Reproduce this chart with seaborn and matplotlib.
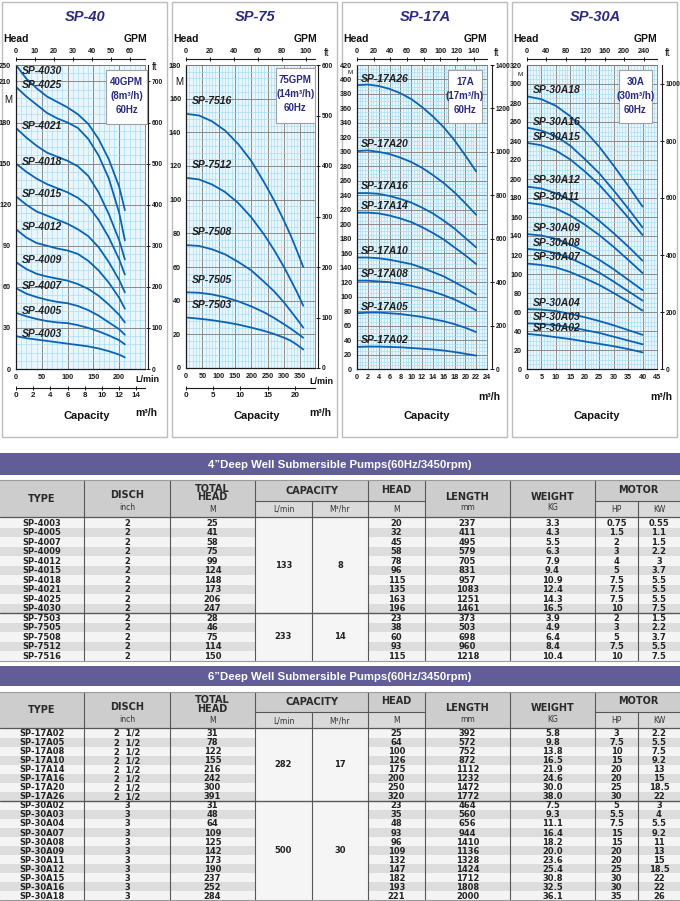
import pandas as pd
import matplotlib
matplotlib.use("Agg")
import matplotlib.pyplot as plt
from matplotlib.patches import Rectangle
from matplotlib.ticker import MultipleLocator
import seaborn as sns

# ------------------------------------------------------------------ curves
# SP-40 : flow in L/min, head in m (as drawn on the chart grid)
sp40_flow = [0, 20, 40, 60, 80, 100, 120, 140, 160, 180, 200, 211]
sp40_models = ["SP-4030", "SP-4025", "SP-4021", "SP-4018", "SP-4015",
               "SP-4012", "SP-4009", "SP-4007", "SP-4005", "SP-4003"]
sp40_heads = [
    [222, 212, 205, 199, 195, 191, 186, 179, 168, 153, 133, 116],
    [206, 199, 193, 187, 183, 180, 176, 168, 156, 139, 114, 94],
    [176, 169, 163, 158, 155, 152, 148, 141, 129, 113, 94, 80],
    [150, 144, 139, 135, 132, 129, 125, 119, 109, 96, 80, 69],
    [126, 120, 115, 112, 109, 106, 102, 97, 89, 78, 65, 56],
    [102, 96, 92, 90, 88, 86.5, 84, 79, 72, 63, 52, 44],
    [78, 73, 69.5, 67.5, 66, 64.5, 62, 58.5, 53.5, 47, 39.5, 34],
    [59, 55, 52.5, 50.5, 49, 48, 46, 43, 39, 34, 29, 25],
    [41, 38.5, 36.5, 35, 34, 33.5, 32, 30, 27.5, 24.5, 21, 18],
    [24, 22.5, 21.5, 20.5, 19.5, 18.5, 17.5, 16.5, 15, 13, 10.5, 8.5],
]

# SP-75 : flow in L/min
sp75_flow = [0, 40, 80, 120, 160, 200, 240, 270, 300, 320, 340, 359]
sp75_models = ["SP-7516", "SP-7512", "SP-7508", "SP-7505", "SP-7503"]
sp75_heads = [
    [151, 150, 146.5, 141, 133, 123, 110, 99.5, 87.5, 79, 69.5, 60],
    [113, 112, 109, 104.5, 98, 89.5, 79, 70, 60, 52.5, 45, 37],
    [73, 72.5, 70.5, 67.5, 63, 58, 51, 45.5, 39, 34, 29, 24],
    [45, 44.7, 43.7, 42, 39.6, 36.6, 33, 29.7, 26, 23.5, 20.7, 18],
    [30, 29.3, 28.4, 27.2, 25.8, 24, 22, 20.2, 18, 16.3, 13.8, 11],
]

# SP-17A : flow in m3/h
sp17_flow = [0, 2, 4, 6, 8, 10, 12, 14, 16, 18, 20, 22]
sp17_models = ["SP-17A26", "SP-17A20", "SP-17A16", "SP-17A14",
               "SP-17A10", "SP-17A08", "SP-17A05", "SP-17A02"]
sp17_heads = [
    [392, 393, 391, 387, 381, 373, 362, 349, 334, 316, 295, 273],
    [301, 302, 300, 297, 292, 286, 278, 268, 257, 244, 229, 213],
    [243, 243, 242, 239, 235, 230, 223, 215, 205, 194, 181, 168],
    [216, 216, 215, 212, 208, 203, 196, 188, 179, 168, 157, 145],
    [154, 154, 153, 151, 148, 145, 140, 134, 128, 120, 112, 103],
    [122, 122, 121, 120, 118, 115, 111, 107, 102, 96, 89, 81],
    [77, 78, 78, 77, 76, 74, 72, 69, 66, 62, 57, 51],
    [30.5, 31, 31, 30.5, 30, 29, 28, 27, 25.5, 23.5, 21, 18.5],
]

# SP-30A : flow in m3/h
sp30_flow = [0, 5, 10, 15, 20, 25, 30, 35, 40]
sp30_models = ["SP-30A18", "SP-30A16", "SP-30A15", "SP-30A12", "SP-30A11",
               "SP-30A09", "SP-30A08", "SP-30A07", "SP-30A04", "SP-30A03",
               "SP-30A02"]
sp30_heads = [
    [287, 284, 277, 266, 251, 234, 214, 193, 171],
    [254, 251, 245, 235, 221, 206, 188, 169, 149],
    [238, 235.5, 230, 220.5, 208, 194, 177, 159.5, 141],
    [192, 190, 185, 178, 168, 156, 143, 129, 114],
    [175, 173, 169, 161.5, 152, 141, 128.5, 115, 101],
    [142, 140.5, 137, 131, 124, 115, 105, 94, 83],
    [126.5, 125, 122, 116.5, 109.5, 101.5, 92, 82, 72],
    [111, 109.5, 107, 102, 95.5, 88.5, 80, 71, 61.5],
    [63, 62.5, 61, 58, 54.5, 50.5, 46, 41, 36],
    [48, 47.5, 46, 44, 41, 38, 34, 30, 26],
    [37, 35.5, 33.5, 31.5, 29, 26.5, 24, 21, 17.5],
]

# ------------------------------------------------------------------ ticks
sp40_lpm_ticks = [0, 50, 100, 150, 200]
sp40_m3h_ticks = [0, 2, 4, 6, 8, 10, 12, 14]
sp40_gpm_ticks = [0, 10, 20, 30, 40, 50, 60]
sp40_ft_ticks = [0, 100, 200, 300, 400, 500, 600, 700]
sp40_ytick_labels = ["0", "30", "60", "90", "120", "150", "180", "210", "250"]

sp75_lpm_ticks = [0, 50, 100, 150, 200, 250, 300, 350]
sp75_m3h_ticks = [0, 5, 10, 15, 20, 24]
sp75_gpm_ticks = [0, 20, 40, 60, 80, 100]
sp75_ft_ticks = [0, 100, 200, 300, 400, 500, 600]
sp75_yticks = list(range(0, 181, 20))

sp17_m3h_ticks = list(range(0, 25, 2))
sp17_gpm_ticks = [0, 20, 40, 60, 80, 100, 120, 140]
sp17_ft_ticks = [0, 200, 400, 600, 800, 1000, 1200, 1400]
sp17_yticks = list(range(0, 421, 20))

sp30_m3h_ticks = list(range(0, 46, 5))
sp30_gpm_ticks = [0, 40, 80, 120, 160, 200, 240]
sp30_ft_ticks = [0, 200, 400, 600, 800, 1000]
sp30_yticks = list(range(0, 321, 20))

info_40 = ["40GPM", "(8m³/h)", "60Hz"]
info_75 = ["75GPM", "(14m³/h)", "60Hz"]
info_17 = ["17A", "(17m³/h)", "60Hz"]
info_30 = ["30A", "(30m³/h)", "60Hz"]

# ------------------------------------------------------------------ tables
t4_title = "4”Deep Well Submersible Pumps(60Hz/3450rpm)"
t4_type = ["SP-4003", "SP-4005", "SP-4007", "SP-4009", "SP-4012", "SP-4015",
           "SP-4018", "SP-4021", "SP-4025", "SP-4030",
           "SP-7503", "SP-7505", "SP-7508", "SP-7512", "SP-7516"]
t4_disch = ["2"] * 15
t4_total_head = [25, 41, 58, 75, 99, 124, 148, 173, 206, 247, 28, 46, 75, 114, 150]
t4_head = [20, 32, 45, 58, 78, 96, 115, 135, 163, 196, 23, 38, 60, 93, 115]
t4_length = [237, 411, 495, 579, 705, 831, 957, 1083, 1251, 1461, 373, 503, 698, 960, 1218]
t4_weight = ["3.3", "4.3", "5.5", "6.3", "7.9", "9.4", "10.9", "12.4", "14.3", "16.5",
             "3.9", "4.9", "6.4", "8.4", "10.4"]
t4_hp = ["0.75", "1.5", "2", "3", "4", "5", "7.5", "7.5", "7.5", "10",
         "2", "3", "5", "7.5", "10"]
t4_kw = ["0.55", "1.1", "1.5", "2.2", "3", "3.7", "5.5", "5.5", "5.5", "7.5",
         "1.5", "2.2", "3.7", "5.5", "7.5"]
t4_groups = [10, 5]
t4_cap_lpm = ["133", "233"]
t4_cap_m3h = ["8", "14"]

t6_title = "6”Deep Well Submersible Pumps(60Hz/3450rpm)"
t6_type = ["SP-17A02", "SP-17A05", "SP-17A08", "SP-17A10", "SP-17A14", "SP-17A16",
           "SP-17A20", "SP-17A26", "SP-30A02", "SP-30A03", "SP-30A04", "SP-30A07",
           "SP-30A08", "SP-30A09", "SP-30A11", "SP-30A12", "SP-30A15", "SP-30A16",
           "SP-30A18"]
t6_disch = ["2  1/2"] * 8 + ["3"] * 11
t6_total_head = [31, 78, 122, 155, 216, 242, 300, 391,
                 31, 48, 64, 109, 125, 142, 173, 190, 237, 252, 284]
t6_head = [25, 64, 100, 126, 175, 200, 250, 320,
           23, 35, 48, 93, 96, 109, 132, 147, 182, 193, 221]
t6_length = [392, 572, 752, 872, 1112, 1232, 1472, 1772,
             464, 560, 656, 944, 1410, 1136, 1328, 1424, 1712, 1808, 2000]
t6_weight = ["5.8", "9.8", "13.8", "16.5", "21.9", "24.6", "30.0", "38.0",
             "7.5", "9.3", "11.1", "16.4", "18.2", "20.0", "23.6", "25.4", "30.8", "32.5", "36.1"]
t6_hp = ["3", "7.5", "10", "15", "20", "20", "25", "30",
         "5", "5.5", "7.5", "15", "15", "20", "20", "25", "30", "30", "35"]
t6_kw = ["2.2", "5.5", "7.5", "9.2", "13", "15", "18.5", "22",
         "3", "4", "5.5", "9.2", "11", "13", "15", "18.5", "22", "22", "26"]
t6_groups = [8, 11]
t6_cap_lpm = ["282", "500"]
t6_cap_m3h = ["17", "30"]

# ------------------------------------------------------------------ style
BLUE = "#0b63b2"
NAVY = "#2b2a7e"
PLOT_BG = "#e9f7fd"
GRID_MINOR = "#a4dbf2"
GRID_MAJOR = "#8a8a8a"
BAR = "#625d97"
HEAD_BG = "#cdcdcd"
SUB_BG = "#dadada"
STRIPES = ["#f4f4f4", "#dddddd"]
LINE = "#575757"
NARROW = ["Liberation Sans Narrow", "Liberation Sans", "DejaVu Sans"]
TABLE_FONT = "DejaVu Sans"

sns.set_theme(style="white")
plt.rcParams["font.family"] = NARROW
plt.rcParams["font.weight"] = "bold"

W, H = 680, 901


def frac(l, t, r, b):
    return [l / W, 1 - b / H, (r - l) / W, (b - t) / H]


fig = plt.figure(figsize=(W / 100, H / 100), dpi=100)
fig.patch.set_facecolor("white")
bg = fig.add_axes([0, 0, 1, 1], zorder=0)
ov = fig.add_axes([0, 0, 1, 1], zorder=10)
for a in (bg, ov):
    a.set_xlim(0, W)
    a.set_ylim(H, 0)
    a.axis("off")

panels = [
    dict(x0=0, rect=(16, 65, 145, 369), title="SP-40",
         flow=sp40_flow, models=sp40_models, heads=sp40_heads,
         xlim=(0, 250), ylim=(0, 222), xminor=10, yminor=6,
         xticks=sp40_lpm_ticks,
         yticks=list(range(0, 211, 30)) + [222], ylabels=sp40_ytick_labels,
         gpm_factor=3.68, gpm_ticks=sp40_gpm_ticks,
         ft_ticks=sp40_ft_ticks, ft_loc=1.023,
         m3h=(sp40_m3h_ticks, -0.0625), lmin_xy=(147.5, 380),
         info=info_40, info_rect=(106, 70, 147, 124),
         label=(11, 1.5, "center"), ft_xy=(155, 67), m_xy=(8, 100),
         m3h_xy=(146, 413), m_size=7),
    dict(x0=170, rect=(186, 65, 315, 368), title="SP-75",
         flow=sp75_flow, models=sp75_models, heads=sp75_heads,
         xlim=(0, 395), ylim=(0, 180), xminor=10, yminor=4,
         xticks=sp75_lpm_ticks, yticks=sp75_yticks,
         ylabels=[str(v) for v in sp75_yticks],
         gpm_factor=3.67, gpm_ticks=sp75_gpm_ticks,
         ft_ticks=sp75_ft_ticks, ft_loc=1.026,
         m3h=(sp75_m3h_ticks, -0.066), lmin_xy=(321, 381),
         info=info_75, info_rect=(276, 68, 315, 123),
         label=(17, 5.5, "bottom"), ft_xy=(326.7, 53), m_xy=(179, 82),
         m3h_xy=(320, 413), m_size=7),
    dict(x0=340, rect=(357, 65, 487, 369), title="SP-17A",
         flow=sp17_flow, models=sp17_models, heads=sp17_heads,
         xlim=(0, 24), ylim=(0, 420), xminor=0.5, yminor=5,
         xticks=sp17_m3h_ticks, yticks=sp17_yticks,
         ylabels=[str(v) for v in sp17_yticks],
         gpm_factor=0.1537, gpm_ticks=sp17_gpm_ticks,
         ft_ticks=sp17_ft_ticks, ft_loc=1.038,
         m3h=None, lmin_xy=None,
         info=info_17, info_rect=(448, 70, 482, 123),
         label=(0.8, 1.2, "bottom"), ft_xy=(496.7, 53), m_xy=(350, 73),
         m3h_xy=(489.5, 397), m_size=4.5),
    dict(x0=510, rect=(527, 65, 657, 369), title="SP-30A",
         flow=sp30_flow, models=sp30_models, heads=sp30_heads,
         xlim=(0, 45), ylim=(0, 320), xminor=1, yminor=5,
         xticks=sp30_m3h_ticks, yticks=sp30_yticks,
         ylabels=[str(v) for v in sp30_yticks],
         gpm_factor=0.1682, gpm_ticks=sp30_gpm_ticks,
         ft_ticks=sp30_ft_ticks, ft_loc=1.038,
         m3h=None, lmin_xy=None,
         info=info_30, info_rect=(619, 70, 652, 123),
         label=(2.1, 0.8, "bottom"), ft_xy=(668, 53), m_xy=(520, 75),
         m3h_xy=(661, 397), m_size=4.5),
]


def style_secondary(sec, size=5.2):
    sec.tick_params(direction="inout", length=3.5, width=0.7, pad=0.8,
                    labelsize=size, colors="#1a1a1a")
    for s in sec.spines.values():
        s.set_color("#1a1a1a")
        s.set_linewidth(0.8)


def draw_panel(p):
    x0 = p["x0"]
    bg.add_patch(Rectangle((x0 + 2, 2), 165, 435, fill=False, ec="#bdbdbd", lw=1.0))

    ax = fig.add_axes(frac(*p["rect"]), zorder=2)
    rows = [(m, q, h) for m, hs in zip(p["models"], p["heads"])
            for q, h in zip(p["flow"], hs)]
    df = pd.DataFrame(rows, columns=["model", "flow", "head"])
    sns.lineplot(data=df, x="flow", y="head", units="model", estimator=None,
                 sort=False, color=BLUE, lw=1.3, ax=ax, legend=False)
    ax.set_facecolor(PLOT_BG)
    ax.set_xlim(*p["xlim"])
    ax.set_ylim(*p["ylim"])
    ax.set_xlabel("")
    ax.set_ylabel("")
    ax.set_xticks(p["xticks"])
    ax.set_xticklabels([str(v) for v in p["xticks"]])
    ax.set_yticks(p["yticks"])
    ax.set_yticklabels(p["ylabels"])
    ax.xaxis.set_minor_locator(MultipleLocator(p["xminor"]))
    ax.yaxis.set_minor_locator(MultipleLocator(p["yminor"]))
    ax.grid(True, which="minor", color=GRID_MINOR, lw=0.45)
    ax.grid(True, which="major", color=GRID_MAJOR, lw=0.7)
    ax.set_axisbelow(True)
    ax.tick_params(which="minor", length=0)
    ax.tick_params(which="major", length=2, width=0.7, pad=1.5,
                   labelsize=5.2, colors="#1a1a1a")
    for side in ("left", "bottom"):
        ax.spines[side].set_color("#1a1a1a")
        ax.spines[side].set_linewidth(0.9)
    for side in ("top", "right"):
        ax.spines[side].set_color("#777777")
        ax.spines[side].set_linewidth(0.6)

    # GPM scale on top
    f = p["gpm_factor"]
    top = ax.secondary_xaxis(1.02, functions=(lambda x, f=f: x / f,
                                               lambda g, f=f: g * f))
    top.set_xticks(p["gpm_ticks"])
    style_secondary(top)

    # ft scale on the right
    ft = ax.secondary_yaxis(p["ft_loc"], functions=(lambda m: m * 10 / 3,
                                                     lambda v: v * 3 / 10))
    ft.set_yticks(p["ft_ticks"])
    style_secondary(ft, size=4.8)

    # m3/h scale under the L/min scale
    if p["m3h"] is not None:
        ticks, loc = p["m3h"]
        low = ax.secondary_xaxis(loc, functions=(lambda q: q * 0.06,
                                                  lambda v: v / 0.06))
        low.set_xticks(ticks)
        style_secondary(low, size=5.8)

    # curve names
    lx, dy, va = p["label"]
    ytop = p["ylim"][1] * 0.972
    for m, hs in zip(p["models"], p["heads"]):
        ax.annotate(m, (lx, min(hs[0], ytop)), xytext=(0, dy),
                    textcoords="offset points", ha="left", va=va,
                    fontsize=7.5, fontstyle="italic", fontweight="bold",
                    color="#1e1e1e")

    # texts around the panel
    ov.text(x0 + 85, 17, p["title"], ha="center", va="center", fontsize=10.5,
            fontstyle="italic", fontweight="bold", color=NAVY)
    ov.text(x0 + 3, 39.5, "Head", ha="left", va="center", fontsize=7.5, color="#111")
    ov.text(x0 + 147, 39.5, "GPM", ha="right", va="center", fontsize=7.5, color="#111")
    ov.text(*p["ft_xy"], "ft", ha="center", va="center", fontsize=7,
            fontweight="normal", color="#111")
    ov.text(*p["m_xy"], "M", ha="center", va="center", fontsize=p["m_size"],
            fontweight="normal", color="#111")
    ov.text(x0 + 87, 416, "Capacity", ha="center", va="center", fontsize=8, color="#111")
    ov.text(*p["m3h_xy"], "m³/h", ha="center", va="center", fontsize=7.5, color="#111")
    if p["lmin_xy"] is not None:
        ov.text(*p["lmin_xy"], "L/min", ha="center", va="center", fontsize=6.5,
                color="#111")

    # rating box
    l, t, r, b = p["info_rect"]
    ov.add_patch(Rectangle((l, t), r - l, b - t, fc="white", ec="#a0a0a0", lw=0.8))
    for k, line in enumerate(p["info"]):
        ov.text((l + r) / 2, t + 11.7 + 14.3 * k, line, ha="center", va="center",
                fontsize=7, color=NAVY)


for p in panels:
    draw_panel(p)

# ------------------------------------------------------------------ tables
COLS = [0, 84, 170, 255, 312, 368, 425, 510, 595, 638, 680]
CENTERS = [(a + b) / 2 for a, b in zip(COLS[:-1], COLS[1:])]


def draw_table(bar, head, row_top, row_h, title, columns, groups, cap_lpm, cap_m3h):
    b0, b1 = bar
    h0, hs, h1 = head
    n = len(columns[0])
    bottom = row_top + n * row_h

    bg.add_patch(Rectangle((0, b0), W, b1 - b0, color=BAR, lw=0))
    bg.text(W / 2, (b0 + b1) / 2 + 0.5, title, ha="center", va="center",
            fontsize=8.2, color="white")

    bg.add_patch(Rectangle((0, h0), W, h1 - h0, color=HEAD_BG, lw=0))
    for c0, c1 in [(3, 6), (8, 10)]:
        bg.add_patch(Rectangle((COLS[c0], hs), COLS[c1] - COLS[c0], h1 - hs,
                               color=SUB_BG, lw=0))

    for i in range(n):
        bg.add_patch(Rectangle((0, row_top + i * row_h), W, row_h,
                               color=STRIPES[i % 2], lw=0))

    tkw = dict(ha="center", va="center", fontsize=6, family=TABLE_FONT,
               fontweight="bold", color="#222222")
    start = 0
    for size, lpm, m3 in zip(groups, cap_lpm, cap_m3h):
        y0 = row_top + start * row_h
        hgt = size * row_h
        bg.add_patch(Rectangle((COLS[3], y0), COLS[5] - COLS[3], hgt,
                               color="#f5f5f5", lw=0))
        bg.text(CENTERS[3], y0 + hgt / 2, lpm, **tkw)
        bg.text(CENTERS[4], y0 + hgt / 2, m3, **tkw)
        start += size
        if start < n:
            bg.plot([0, W], [y0 + hgt] * 2, color=LINE, lw=1.0)

    for ci, vals in zip([0, 1, 2, 5, 6, 7, 8, 9], columns):
        for i, v in enumerate(vals):
            bg.text(CENTERS[ci], row_top + (i + 0.55) * row_h, str(v), **tkw)

    for k in range(1, 10):
        ystart = hs if k in (4, 9) else h0
        bg.plot([COLS[k]] * 2, [ystart, bottom], color=LINE, lw=0.8)
    bg.plot([COLS[3], COLS[6]], [hs, hs], color=LINE, lw=0.8)
    bg.plot([COLS[8], W], [hs, hs], color=LINE, lw=0.8)
    bg.plot([0, W], [h1, h1], color=LINE, lw=0.9)
    bg.plot([0, W], [h0, h0], color="#9a9a9a", lw=0.8)
    bg.plot([0, W], [bottom, bottom], color="#9a9a9a", lw=0.8)

    hkw = dict(ha="center", va="center", fontsize=7, family=TABLE_FONT,
               fontweight="bold", color="#2a2a2a")
    skw = dict(ha="center", va="center", fontsize=5.5, family=TABLE_FONT,
               fontweight="normal", color="#333333")
    bg.text(CENTERS[0], h0 + 18.5, "TYPE", **hkw)
    bg.text(CENTERS[1], h0 + 15, "DISCH", **hkw)
    bg.text(CENTERS[1], h0 + 28, "inch", **skw)
    bg.text(CENTERS[2], h0 + 8.5, "TOTAL", **hkw)
    bg.text(CENTERS[2], h0 + 17.5, "HEAD", **hkw)
    bg.text(CENTERS[2], h0 + 29, "M", **skw)
    bg.text(COLS[4], h0 + 10.5, "CAPACITY", **hkw)
    bg.text(CENTERS[3], h0 + 29, "L/min", **skw)
    bg.text(CENTERS[4], h0 + 29, "M³/hr", **skw)
    bg.text(CENTERS[5], h0 + 10, "HEAD", **hkw)
    bg.text(CENTERS[5], h0 + 29, "M", **skw)
    bg.text(CENTERS[6], h0 + 16.5, "LENGTH", **hkw)
    bg.text(CENTERS[6], h0 + 28, "mm", **skw)
    bg.text(CENTERS[7], h0 + 16.5, "WEIGHT", **hkw)
    bg.text(CENTERS[7], h0 + 27.5, "KG", **skw)
    bg.text(COLS[9], h0 + 10, "MOTOR", **hkw)
    bg.text(CENTERS[8], h0 + 29, "HP", **skw)
    bg.text(CENTERS[9], h0 + 29, "KW", **skw)


draw_table((453, 475), (480, 501, 516.5), 518, 9.5, t4_title,
           [t4_type, t4_disch, t4_total_head, t4_head, t4_length, t4_weight, t4_hp, t4_kw],
           t4_groups, t4_cap_lpm, t4_cap_m3h)
draw_table((666, 686), (691.5, 712, 728), 728.5, 9.05, t6_title,
           [t6_type, t6_disch, t6_total_head, t6_head, t6_length, t6_weight, t6_hp, t6_kw],
           t6_groups, t6_cap_lpm, t6_cap_m3h)

fig.savefig("out.png", dpi=100, facecolor="white")
